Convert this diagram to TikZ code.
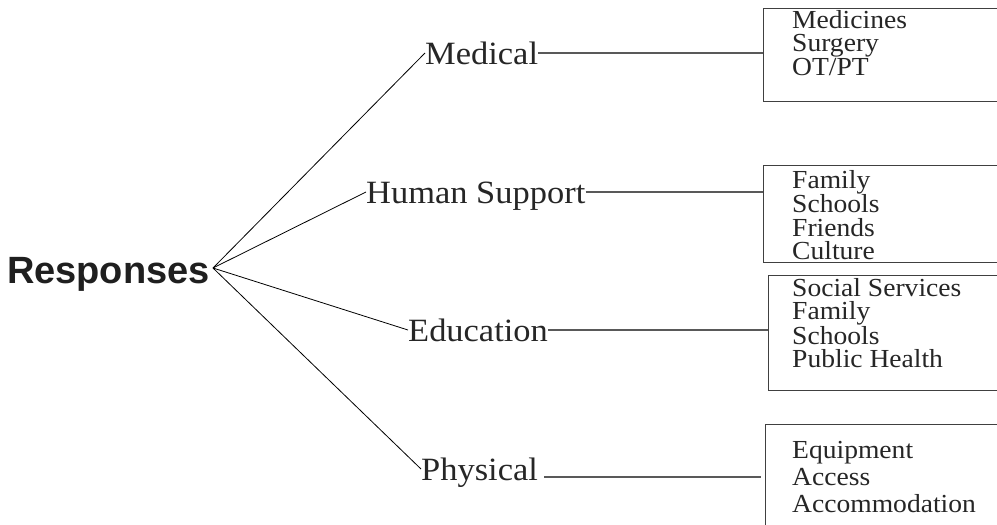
\documentclass[tikz,border=0pt]{standalone}
\usepackage{fontspec}
\setmainfont{Liberation Serif}[FakeStretch=1.06]
\setsansfont{Liberation Sans}
\usetikzlibrary{calc}
\newcommand*{\pw  }{997}
\newcommand*{\ph  }{525}
\newcommand*{\bxr }{1020}
\newcommand*{\txl }{792}

\tikzset{
    topic/.style  = {font=\sffamily\bfseries\fontsize{38}{38}\selectfont, inner sep=0pt, anchor=base east, text=black!88},
    branch/.style = {font=\fontsize{32.5}{30}\selectfont, inner sep=0pt, text height=22pt, text depth=0pt, anchor=base west, text=black!85},
    items/.style  = {font=\fontsize{26}{#1}\selectfont, inner sep=0pt, align=left, anchor=north west, text=black!85},
    items/.default = 23.5,
    frame/.style  = {draw=black!75, line width=1.3pt, inner sep=0pt, anchor=north west},
    spoke/.style  = {draw=black, line width=0.8pt},
    stub/.style   = {draw=black!65, line width=1.5pt}
}

\begin{document}
\begin{tikzpicture}[x=1pt, y=-1pt]
    \clip (0,0) rectangle (\pw,\ph);
    \fill [white] (0,0) rectangle (\pw,\ph);

    % root and the point the spokes leave from
    \node [topic] (responses) at (210,283) {Responses};
    \coordinate (hub) at (213,268);

    % branches
    \node [branch] (medical)  at (425, 64) {Medical};
    \node [branch] (human)    at (366,203) {Human Support};
    \node [branch] (educ)     at (408,341) {Education};
    \node [branch] (physical) at (421,480) {Physical};

    % boxes on the right, open past the page edge
    \node [frame, minimum width=\bxr-763, minimum height= 93] (medbox)  at (763,  8) {};
    \node [frame, minimum width=\bxr-763, minimum height= 97] (humbox)  at (763,165) {};
    \node [frame, minimum width=\bxr-768, minimum height=115] (edubox)  at (768,275) {};
    \node [frame, minimum width=\bxr-765, minimum height=130] (physbox) at (765,424) {};

    \node [items]     (medlist)  at (\txl, 10) {Medicines\\Surgery\\OT/PT};
    \node [items]     (humlist)  at (\txl,170) {Family\\Schools\\Friends\\Culture};
    \node [items]     (edulist)  at (\txl,278) {Social Services\\Family\\Schools\\Public Health};
    \node [items=27]  (physlist) at (\txl,441) {Equipment\\Access\\Accommodation};

    % spokes
    \foreach \n in {medical,human,educ,physical}
        \draw [spoke] (hub) -- (\n.west);

    % stubs into the boxes
    \draw [stub] (medical.east) -- (medical.east -| medbox.west);
    \draw [stub] (human.east)   -- (human.east -| humbox.west);
    \draw [stub] (educ.east)    -- (educ.east -| edubox.west);
    \draw [stub] ([xshift=6pt,yshift=-8pt]physical.east) -- ([xshift=-4pt,yshift=-8pt]physical.east -| physbox.west);
\end{tikzpicture}
\end{document}
